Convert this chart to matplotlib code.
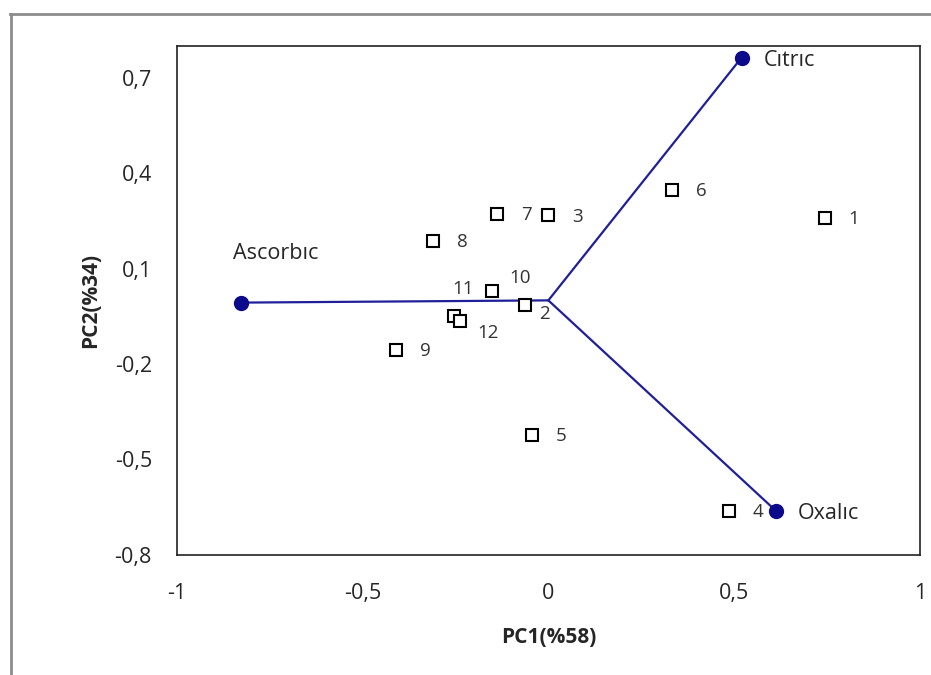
import matplotlib.pyplot as plt
from matplotlib.lines import Line2D
from matplotlib.ticker import FuncFormatter

# sample scores
sample_ids = ["1", "2", "3", "4", "5", "6", "7", "8", "9", "10", "11", "12"]
pc1_scores = [0.744, -0.062, 0.0, 0.485, -0.043, 0.334, -0.137, -0.31, -0.41, -0.151, -0.253, -0.237]
pc2_scores = [0.26, -0.013, 0.267, -0.661, -0.422, 0.348, 0.273, 0.188, -0.155, 0.031, -0.048, -0.064]

# loading vectors
acid_names = ["Cıtrıc", "Ascorbıc", "Oxalıc"]
pc1_loadings = [0.52, -0.827, 0.612]
pc2_loadings = [0.763, -0.007, -0.661]

plt.rcParams["font.family"] = ["Open Sans", "DejaVu Sans"]

fig = plt.figure(figsize=(9.31, 6.75), dpi=100)
ax = fig.add_axes([0.190, 0.178, 0.798, 0.754])

# gray outer frame
fig.add_artist(Line2D([10 / 931, 1], [1 - 14 / 675, 1 - 14 / 675], transform=fig.transFigure, color="#8c8c8c", lw=2))
fig.add_artist(Line2D([11 / 931, 11 / 931], [0, 1 - 14 / 675], transform=fig.transFigure, color="#8c8c8c", lw=2))

navy = "#1f1f9a"
for x, y in zip(pc1_loadings, pc2_loadings):
    ax.plot([0, x], [0, y], color=navy, lw=1.6, zorder=2)
ax.plot(pc1_loadings, pc2_loadings, "o", color="#0a0a8a", ms=10, zorder=3, ls="none")

acid_offsets = {"Cıtrıc": (16, -2, "left", "center"),
                "Ascorbıc": (-6, 35, "left", "center"),
                "Oxalıc": (16, -2, "left", "center")}
for name, x, y in zip(acid_names, pc1_loadings, pc2_loadings):
    dx, dy, ha, va = acid_offsets[name]
    ax.annotate(name, (x, y), xytext=(dx, dy), textcoords="offset points",
                ha=ha, va=va, fontsize=15.5, color="#262626")

ax.plot(pc1_scores, pc2_scores, "s", mfc="white", mec="black", mew=1.5, ms=8.5, ls="none", zorder=4)

label_offsets = {"10": (20, 9, "center", "center"),
                 "11": (6, 19, "center", "center"),
                 "12": (20, -9, "center", "center"),
                 "2": (14, -7, "center", "center")}
for sid, x, y in zip(sample_ids, pc1_scores, pc2_scores):
    dx, dy, ha, va = label_offsets.get(sid, (17, -1, "left", "center"))
    ax.annotate(sid, (x, y), xytext=(dx, dy), textcoords="offset points",
                ha=ha, va=va, fontsize=13.5, color="#333333")

ax.set_xlim(-1, 1)
ax.set_ylim(-0.8, 0.8)
ax.set_xticks([-1, -0.5, 0, 0.5, 1])
ax.set_yticks([-0.8, -0.5, -0.2, 0.1, 0.4, 0.7])
fmt = FuncFormatter(lambda v, p: ("%g" % round(v, 2)).replace(".", ","))
ax.xaxis.set_major_formatter(fmt)
ax.yaxis.set_major_formatter(fmt)
ax.tick_params(length=0, labelsize=15.5, labelcolor="#262626")
ax.tick_params(axis="x", pad=20)
ax.tick_params(axis="y", pad=18)
for s in ax.spines.values():
    s.set_linewidth(1.2)
    s.set_color("#222222")

ax.set_xlabel("PC1(%58)", fontsize=15, fontweight="bold", color="#262626", labelpad=17)
ax.set_ylabel("PC2(%34)", fontsize=15, fontweight="bold", color="#262626", labelpad=10)

fig.savefig("out.png", dpi=100)
